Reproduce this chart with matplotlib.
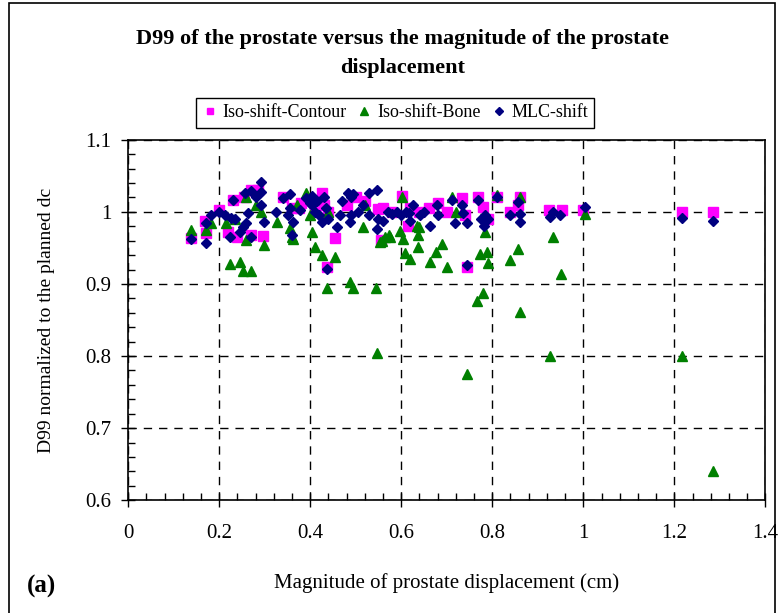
import numpy as np
import matplotlib
matplotlib.use("Agg")
import matplotlib.pyplot as plt
from matplotlib.patches import Rectangle

plt.rcParams['font.family'] = 'Liberation Serif'
plt.rcParams['xtick.direction'] = 'inout'
plt.rcParams['ytick.direction'] = 'inout'

# Iso-shift-Contour (magenta squares)
contour_x = [0.139, 0.172, 0.170, 0.200, 0.219, 0.240, 0.231, 0.270, 0.255, 0.270,
             0.297, 0.285, 0.341, 0.360, 0.376, 0.380, 0.410, 0.425, 0.436, 0.454,
             0.430, 0.440, 0.480, 0.500, 0.520, 0.550, 0.556, 0.560, 0.580, 0.602,
             0.615, 0.620, 0.640, 0.660, 0.680, 0.700, 0.733, 0.740, 0.744, 0.769,
             0.780, 0.790, 0.810, 0.840, 0.857, 0.860, 0.924, 0.953, 1.000, 1.216,
             1.286]
contour_y = [0.964, 0.970, 0.988, 1.003, 0.972, 0.965, 1.017, 0.968, 1.020, 1.030,
             0.966, 1.030, 1.020, 1.005, 1.005, 1.012, 1.000, 1.026, 0.924, 0.964,
             1.010, 1.000, 1.010, 1.020, 1.015, 1.004, 0.961, 1.005, 1.000, 1.022,
             0.981, 1.005, 1.000, 1.005, 1.012, 1.000, 1.019, 0.995, 0.924, 1.020,
             1.007, 0.990, 1.020, 1.000, 1.010, 1.020, 1.003, 1.003, 1.003, 1.000,
             1.000]

# Iso-shift-Bone (green triangles)
bone_x = [0.139, 0.172, 0.182, 0.215, 0.224, 0.235, 0.245, 0.253, 0.270, 0.260,
          0.260, 0.280, 0.293, 0.298, 0.328, 0.355, 0.359, 0.363, 0.370, 0.390,
          0.400, 0.403, 0.410, 0.425, 0.454, 0.436, 0.440, 0.487, 0.495, 0.516,
          0.520, 0.544, 0.546, 0.553, 0.557, 0.565, 0.573, 0.575, 0.597, 0.602,
          0.604, 0.608, 0.619, 0.634, 0.637, 0.637, 0.640, 0.663, 0.676, 0.689,
          0.700, 0.711, 0.720, 0.744, 0.766, 0.773, 0.780, 0.784, 0.788, 0.791,
          0.810, 0.839, 0.857, 0.861, 0.860, 0.927, 0.934, 0.951, 1.004, 1.216,
          1.286]
bone_y = [0.975, 0.975, 0.985, 0.985, 0.927, 0.990, 0.931, 0.918, 0.918, 0.961,
          1.020, 1.010, 1.000, 0.954, 0.986, 0.977, 0.965, 0.962, 1.010, 1.026,
          0.995, 0.972, 0.951, 0.940, 0.938, 0.894, 1.000, 0.903, 0.894, 0.979,
          1.010, 0.894, 0.804, 0.958, 0.960, 0.965, 0.968, 0.965, 0.974, 1.020,
          0.963, 0.943, 0.934, 0.981, 0.968, 0.951, 0.979, 0.931, 0.944, 0.956,
          0.923, 1.021, 1.000, 0.775, 0.877, 0.942, 0.888, 0.972, 0.944, 0.929,
          1.023, 0.933, 0.949, 0.861, 1.020, 0.800, 0.965, 0.914, 0.997, 0.800,
          0.641]

# MLC-shift (navy diamonds)
mlc_x = [0.139, 0.172, 0.172, 0.182, 0.200, 0.212, 0.225, 0.224, 0.235, 0.245,
         0.253, 0.260, 0.271, 0.264, 0.231, 0.257, 0.270, 0.280, 0.293, 0.293,
         0.293, 0.298, 0.326, 0.341, 0.355, 0.355, 0.352, 0.363, 0.359, 0.377,
         0.390, 0.400, 0.405, 0.403, 0.410, 0.415, 0.420, 0.425, 0.430, 0.435,
         0.440, 0.436, 0.458, 0.465, 0.470, 0.484, 0.490, 0.495, 0.487, 0.490,
         0.505, 0.515, 0.530, 0.546, 0.530, 0.550, 0.560, 0.547, 0.570, 0.580,
         0.590, 0.600, 0.610, 0.617, 0.626, 0.619, 0.641, 0.650, 0.663, 0.678,
         0.680, 0.711, 0.718, 0.733, 0.735, 0.744, 0.744, 0.769, 0.784, 0.775,
         0.790, 0.782, 0.810, 0.839, 0.857, 0.861, 0.861, 0.927, 0.934, 0.948,
         1.004, 1.216, 1.286]
mlc_y = [0.962, 0.957, 0.985, 0.995, 1.000, 0.995, 0.992, 0.965, 0.990, 0.972,
         0.979, 0.984, 0.965, 0.998, 1.017, 1.026, 1.029, 1.021, 1.042, 1.028,
         1.009, 0.986, 1.000, 1.019, 1.025, 1.006, 0.995, 0.986, 0.968, 1.002,
         1.019, 1.012, 1.022, 1.009, 1.000, 1.015, 0.995, 0.986, 1.020, 1.005,
         0.990, 0.921, 0.979, 0.995, 1.015, 1.026, 1.020, 1.025, 0.986, 0.995,
         1.000, 1.010, 1.026, 1.030, 0.995, 0.990, 0.987, 0.976, 1.000, 0.997,
         1.000, 0.996, 1.000, 0.998, 1.010, 0.987, 0.995, 1.000, 0.981, 1.009,
         0.995, 1.016, 0.984, 1.009, 0.998, 0.984, 0.926, 1.016, 0.995, 0.990,
         0.990, 0.981, 1.021, 0.995, 1.014, 0.997, 0.986, 0.993, 1.000, 0.996,
         1.007, 0.991, 0.988]

fig = plt.figure(figsize=(7.81, 6.13), dpi=100)
ax = fig.add_axes([0.164, 0.184, 0.816, 0.588])

ax.plot(contour_x, contour_y, 's', color='#FF00FF', ms=6.5, mec='#FF00FF', label='Iso-shift-Contour')
ax.plot(bone_x, bone_y, '^', color='#008000', ms=7.5, mec='#008000', label='Iso-shift-Bone')
ax.plot(mlc_x, mlc_y, 'D', color='#000080', ms=5.5, mec='#000080', label='MLC-shift')

ax.set_xlim(0, 1.4)
ax.set_ylim(0.6, 1.1)
ax.set_xticks(np.arange(0, 1.41, 0.2))
ax.set_xticklabels(['0', '0.2', '0.4', '0.6', '0.8', '1', '1.2', '1.4'])
ax.set_yticks(np.arange(0.6, 1.11, 0.1))
ax.set_yticklabels(['0.6', '0.7', '0.8', '0.9', '1', '1.1'])
ax.set_xticks(np.arange(0, 1.4, 0.04), minor=True)
ax.set_yticks(np.arange(0.6, 1.1, 0.02), minor=True)
ax.tick_params(which='major', length=10, width=1, labelsize=15, pad=7)
ax.tick_params(axis='x', which='major', pad=12)
ax.tick_params(which='minor', direction='in', length=5, width=1)
ax.grid(True, which='major', color='black', linestyle=(0, (6, 5)), linewidth=1)
for s in ax.spines.values():
    s.set_linewidth(1.2)

ax.set_xlabel('Magnitude of prostate displacement (cm)', fontsize=15, labelpad=22)
ax.set_ylabel('D99 normalized to the planned dc', fontsize=14, labelpad=22)

fig.text(0.516, 0.912, 'D99 of the prostate versus the magnitude of the prostate\ndisplacement',
         ha='center', va='center', fontsize=16, fontweight='bold', linespacing=1.6)
fig.text(0.034, 0.044, '(a)', fontsize=18, fontweight='bold', ha='left', va='center')

fig.legend(loc='center', bbox_to_anchor=(0.506, 0.816), ncol=3, fontsize=13,
           frameon=True, fancybox=False, edgecolor='black', framealpha=1,
           handlelength=0.8, handletextpad=0.3, columnspacing=0.6, markerscale=0.75,
           borderpad=0.35)

fig.patches.append(Rectangle((0.012, -0.01), 0.98, 1.005, transform=fig.transFigure,
                             fill=False, edgecolor='black', linewidth=1.2))

fig.savefig('out.png', dpi=100)
